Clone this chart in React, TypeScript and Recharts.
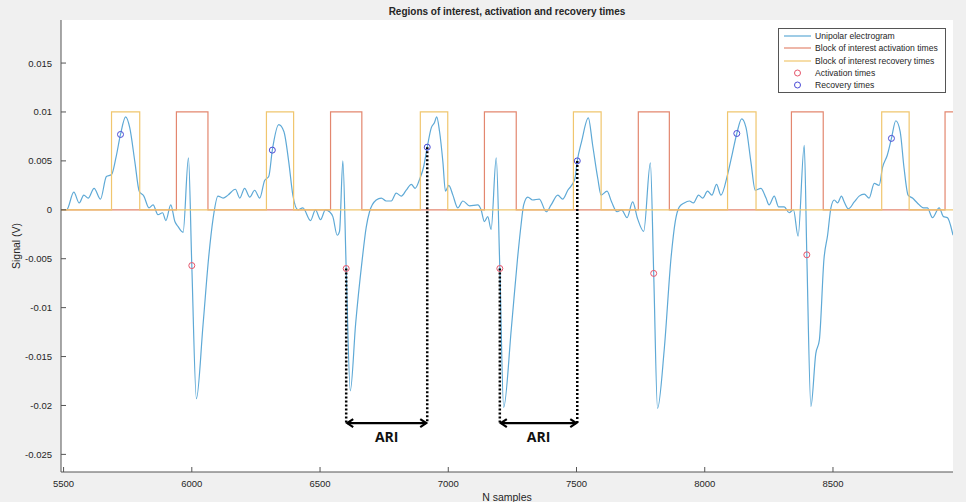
import { CartesianGrid, ComposedChart, Legend, Line, ReferenceLine, Scatter, XAxis, YAxis } from "recharts"

const X_MIN = 5490
const X_MAX = 8968
const Y_MIN = -0.0268
const Y_MAX = 0.0194
const BLOCK_LEVEL = 0.01

const xTicks = [5500, 6000, 6500, 7000, 7500, 8000, 8500]
const yTicks = [-0.025, -0.02, -0.015, -0.01, -0.005, 0, 0.005, 0.01, 0.015]

// unipolar electrogram, [sample, volts]
const egm: [number, number][] = [
  [5490, 0], [5512, 0], [5540, 0.0018], [5561, 0.0007], [5579, 0.0015], [5596, 0.0012],
  [5619, 0.0022], [5644, 0.0011], [5667, 0.0034], [5687, 0.0036], [5704, 0.0053], [5722, 0.0077],
  [5742, 0.0095], [5758, 0.0084], [5778, 0.0049], [5795, 0.0019], [5813, 0.0014], [5833, 0.0002],
  [5849, 0.0005], [5868, -0.0005], [5886, -0.0003], [5899, -0.0011], [5918, 0.0005], [5934, -0.0012],
  [5946, -0.0017], [5966, -0.0023], [5987, 0.0053], [6000, -0.0057], [6018, -0.0193], [6044, -0.0117],
  [6066, -0.0048], [6083, -0.0009], [6102, 0.0014], [6122, 0.0012], [6141, 0.0015], [6170, 0.0021],
  [6187, 0.0012], [6206, 0.0022], [6226, 0.0013], [6245, 0.002], [6265, 0.0012], [6284, 0.003],
  [6300, 0.0034], [6314, 0.0061], [6339, 0.0087], [6359, 0.008], [6378, 0.0049], [6394, 0.0015],
  [6414, 0], [6433, 0.0002], [6463, -0.0011], [6482, 0], [6502, -0.001], [6521, 0], [6537, -0.0002],
  [6550, -0.0007], [6567, -0.0026], [6576, -0.0022], [6589, 0.005], [6602, -0.006], [6618, -0.0185],
  [6639, -0.0116], [6664, -0.0052], [6680, -0.0018], [6693, -0.0002], [6719, 0.001], [6739, 0.0012],
  [6758, 0.0009], [6778, 0.0009], [6797, 0.0017], [6817, 0.0014], [6836, 0.002], [6856, 0.0026],
  [6871, 0.0022], [6888, 0.0031], [6904, 0.0044], [6918, 0.0064], [6934, 0.0084], [6946, 0.0089],
  [6955, 0.0095], [6966, 0.008], [6979, 0.0049], [6989, 0.0019], [7002, 0.0025], [7018, 0.0015],
  [7037, 0.0002], [7057, 0.0009], [7083, 0.0004], [7115, 0.0005], [7128, 0], [7141, -0.0012],
  [7154, -0.0007], [7167, -0.002], [7187, 0.0053], [7201, -0.006], [7216, -0.0202], [7246, -0.0121],
  [7270, -0.005], [7284, -0.0015], [7294, 0.0005], [7310, 0.0013], [7329, 0.001], [7355, 0.0011],
  [7382, -0.0002], [7401, 0.0005], [7427, 0.0015], [7446, 0.0011], [7466, 0.002], [7493, 0.0031],
  [7503, 0.005], [7520, 0.007], [7546, 0.0094], [7563, 0.0066], [7583, 0.0032], [7596, 0.0015],
  [7619, 0.0019], [7637, 0.0008], [7658, -0.0002], [7676, 0], [7697, -0.0008], [7719, 0.0008],
  [7738, -0.0009], [7762, -0.0022], [7788, 0.0048], [7801, -0.0065], [7816, -0.0203], [7842, -0.0143],
  [7869, -0.0048], [7885, -0.0012], [7901, 0.0003], [7920, 0.0007], [7940, 0.0009], [7956, 0.0007],
  [7976, 0.0015], [7992, 0.0012], [8011, 0.0019], [8028, 0.0015], [8046, 0.0026], [8063, 0.0015],
  [8089, 0.0036], [8108, 0.0058], [8125, 0.0078], [8144, 0.0093], [8161, 0.0084], [8180, 0.0049],
  [8197, 0.002], [8219, 0.0022], [8239, 0.0012], [8251, 0.0005], [8271, 0.0014], [8288, 0.0003],
  [8310, 0.0003], [8329, -0.0003], [8346, 0], [8364, -0.0027], [8388, 0.0066], [8398, -0.0046],
  [8414, -0.0201], [8433, -0.0147], [8447, -0.0133], [8465, -0.005], [8479, -0.0026], [8492, 0.0002],
  [8505, 0.001], [8518, 0.0007], [8533, 0.0014], [8544, 0.0008], [8560, 0.0001], [8583, 0.0008],
  [8602, 0.0014], [8622, 0.0016], [8641, 0.0012], [8661, 0.0027], [8680, 0.0025], [8693, 0.0043],
  [8712, 0.0056], [8728, 0.0073], [8745, 0.0091], [8762, 0.008], [8777, 0.0043], [8793, 0.0015],
  [8810, 0.0012], [8829, 0.0007], [8853, 0.0002], [8868, 0.0002], [8888, -0.0008], [8914, 0.0002],
  [8931, -0.0007], [8946, -0.0008], [8968, -0.0026],
]

const activationBlockStart = [5940, 6541, 7141, 7741, 8338, 8937]
const activationBlockEnd = [6063, 6663, 7265, 7862, 8462, 9010]
const recoveryBlockStart = [5687, 6291, 6891, 7488, 8089, 8690]
const recoveryBlockEnd = [5797, 6397, 6998, 7596, 8200, 8797]

const activationTimes = [6000, 6602, 7201, 7801, 8398]
const activationValues = [-0.0057, -0.006, -0.006, -0.0065, -0.0046]
const recoveryTimes = [5722, 6314, 6918, 7503, 8125, 8728]
const recoveryValues = [0.0077, 0.0061, 0.0064, 0.005, 0.0078, 0.0073]

// activation -> recovery intervals marked on the plot
const ariFrom = [6602, 7201]
const ariTo = [6918, 7503]
const ARI_LEVEL = -0.0218

const EGM_COLOR = "#5ea9d6"
const ACT_BLOCK_COLOR = "#e3876f"
const REC_BLOCK_COLOR = "#f0c66e"
const ACT_COLOR = "#e5566b"
const REC_COLOR = "#4b4bd6"
const AXIS_COLOR = "#555555"
const TEXT_COLOR = "#262626"
const FONT = "'Liberation Sans', Arial, sans-serif"

const egmData = egm.map(([n, v]) => ({ n, v }))

function blockData(starts: number[], ends: number[]) {
  const pts = [{ n: X_MIN, v: 0 }]
  starts.forEach((s, i) => {
    pts.push({ n: s, v: 0 }, { n: s, v: BLOCK_LEVEL }, { n: ends[i], v: BLOCK_LEVEL }, { n: ends[i], v: 0 })
  })
  pts.push({ n: X_MAX + 50, v: 0 })
  return pts
}

const actBlocks = blockData(activationBlockStart, activationBlockEnd)
const recBlocks = blockData(recoveryBlockStart, recoveryBlockEnd)
const actPoints = activationTimes.map((n, i) => ({ n, v: activationValues[i] }))
const recPoints = recoveryTimes.map((n, i) => ({ n, v: recoveryValues[i] }))

const ringShape = (color: string) => (props: any) => (
  <circle cx={props.cx} cy={props.cy} r={3} fill="none" stroke={color} strokeWidth={1} />
)

const BottomTick = ({ x, y, payload }: any) => (
  <g>
    <line x1={x} x2={x} y1={y} y2={y - 5} stroke={AXIS_COLOR} />
    <text x={x} y={y + 15} textAnchor="middle" fontSize={9.5} fill={TEXT_COLOR} fontFamily={FONT}>
      {payload.value}
    </text>
  </g>
)
const LeftTick = ({ x, y, payload }: any) => (
  <g>
    <line x1={x} x2={x + 5} y1={y} y2={y} stroke={AXIS_COLOR} />
    <text x={x - 9} y={y + 3.5} textAnchor="end" fontSize={9.5} fill={TEXT_COLOR} fontFamily={FONT}>
      {payload.value}
    </text>
  </g>
)
const TopTick = ({ x, y }: any) => <line x1={x} x2={x} y1={y} y2={y + 5} stroke={AXIS_COLOR} />
const RightTick = ({ x, y }: any) => <line x1={x} x2={x - 5} y1={y} y2={y} stroke={AXIS_COLOR} />

const AriArrow = (props: any) => {
  const { x1, y1, x2, y2 } = props
  return (
    <g>
      <line x1={x1 + 1} y1={y1} x2={x2 - 1} y2={y2} stroke="#000" strokeWidth={2.2} />
      <polyline points={`${x1 + 7},${y1 - 4} ${x1 + 1},${y1} ${x1 + 7},${y1 + 4}`} fill="none" stroke="#000" strokeWidth={2.2} />
      <polyline points={`${x2 - 7},${y2 - 4} ${x2 - 1},${y2} ${x2 - 7},${y2 + 4}`} fill="none" stroke="#000" strokeWidth={2.2} />
      <text x={(x1 + x2) / 2} y={y1 + 19} textAnchor="middle" fontSize={14} fontWeight="bold" fill="#111" fontFamily="'Open Sans', sans-serif">
        ARI
      </text>
    </g>
  )
}

const legendItems = [
  { label: "Unipolar electrogram", color: EGM_COLOR, ring: false },
  { label: "Block of interest activation times", color: ACT_BLOCK_COLOR, ring: false },
  { label: "Block of interest recovery times", color: REC_BLOCK_COLOR, ring: false },
  { label: "Activation times", color: ACT_COLOR, ring: true },
  { label: "Recovery times", color: REC_COLOR, ring: true },
]

const LegendBox = () => (
  <div style={{ width: 166, border: `1px solid ${AXIS_COLOR}`, background: "#fff", padding: "1px 0", fontFamily: FONT, fontSize: 8.6, color: TEXT_COLOR }}>
    {legendItems.map((it) => (
      <div key={it.label} style={{ display: "flex", alignItems: "center", height: 12.3 }}>
        <svg width={36} height={12} style={{ flex: "none" }}>
          {it.ring ? (
            <circle cx={18.5} cy={6} r={3} fill="none" stroke={it.color} />
          ) : (
            <line x1={5} x2={32} y1={6} y2={6} stroke={it.color} strokeWidth={1.2} />
          )}
        </svg>
        <span style={{ whiteSpace: "nowrap" }}>{it.label}</span>
      </div>
    ))}
  </div>
)

const valueAt = (times: number[], values: number[], t: number) => values[times.indexOf(t)]

export default function App() {
  return (
    <div style={{ position: "absolute", left: 0, top: 0, width: 966, height: 502, background: "#f0f0f0" }}>
      <div style={{ position: "absolute", left: 61, top: 6, width: 892, textAlign: "center", fontFamily: FONT, fontSize: 10, fontWeight: "bold", color: TEXT_COLOR }}>
        Regions of interest, activation and recovery times
      </div>
      <ComposedChart width={966} height={502} margin={{ top: 20, right: 13, bottom: 0, left: 0 }}>
        <CartesianGrid horizontal={false} vertical={false} fill="#ffffff" />
        <XAxis
          dataKey="n"
          type="number"
          domain={[X_MIN, X_MAX]}
          ticks={xTicks}
          allowDataOverflow
          height={30}
          tickSize={0}
          tickMargin={0}
          tickLine={false}
          tick={BottomTick}
          stroke={AXIS_COLOR}
          label={{ value: "N samples", position: "insideBottom", offset: 1, fontSize: 10.5, fill: TEXT_COLOR, fontFamily: FONT }}
        />
        <XAxis
          xAxisId="top"
          orientation="top"
          type="number"
          domain={[X_MIN, X_MAX]}
          ticks={xTicks}
          allowDataOverflow
          height={0}
          tickSize={0}
          tickMargin={0}
          tickLine={false}
          tick={TopTick}
          stroke={AXIS_COLOR}
        />
        <YAxis
          type="number"
          domain={[Y_MIN, Y_MAX]}
          ticks={yTicks}
          allowDataOverflow
          width={61}
          tickSize={0}
          tickMargin={0}
          tickLine={false}
          tick={LeftTick}
          stroke={AXIS_COLOR}
          label={{ value: "Signal (V)", angle: -90, position: "insideLeft", offset: 16, fontSize: 10.5, fill: TEXT_COLOR, fontFamily: FONT, style: { textAnchor: "middle" } }}
        />
        <YAxis
          yAxisId="right"
          orientation="right"
          type="number"
          domain={[Y_MIN, Y_MAX]}
          ticks={yTicks}
          allowDataOverflow
          width={0}
          tickSize={0}
          tickMargin={0}
          tickLine={false}
          tick={RightTick}
          stroke={AXIS_COLOR}
        />
        <Line data={egmData} dataKey="v" type="monotone" stroke={EGM_COLOR} strokeWidth={1.2} dot={false} activeDot={false} isAnimationActive={false} />
        <Line data={actBlocks} dataKey="v" type="linear" stroke={ACT_BLOCK_COLOR} strokeWidth={1.2} dot={false} activeDot={false} isAnimationActive={false} />
        <Line data={recBlocks} dataKey="v" type="linear" stroke={REC_BLOCK_COLOR} strokeWidth={1.2} dot={false} activeDot={false} isAnimationActive={false} />
        <Scatter data={actPoints} dataKey="v" shape={ringShape(ACT_COLOR)} isAnimationActive={false} />
        <Scatter data={recPoints} dataKey="v" shape={ringShape(REC_COLOR)} isAnimationActive={false} />
        {ariFrom.map((a, i) => (
          <ReferenceLine
            key={`va${i}`}
            segment={[{ x: a, y: valueAt(activationTimes, activationValues, a) }, { x: a, y: ARI_LEVEL }]}
            stroke="#000"
            strokeWidth={2.5}
            strokeDasharray="2 2"
          />
        ))}
        {ariTo.map((r, i) => (
          <ReferenceLine
            key={`vr${i}`}
            segment={[{ x: r, y: valueAt(recoveryTimes, recoveryValues, r) }, { x: r, y: ARI_LEVEL }]}
            stroke="#000"
            strokeWidth={2.5}
            strokeDasharray="2 2"
          />
        ))}
        {ariFrom.map((a, i) => (
          <ReferenceLine key={`ari${i}`} segment={[{ x: a, y: ARI_LEVEL }, { x: ariTo[i], y: ARI_LEVEL }]} shape={AriArrow} />
        ))}
        <Legend
          layout="horizontal"
          verticalAlign="middle"
          align="center"
          wrapperStyle={{ position: "absolute", left: 778, top: 28, width: 168 }}
          content={() => <LegendBox />}
        />
      </ComposedChart>
    </div>
  )
}
